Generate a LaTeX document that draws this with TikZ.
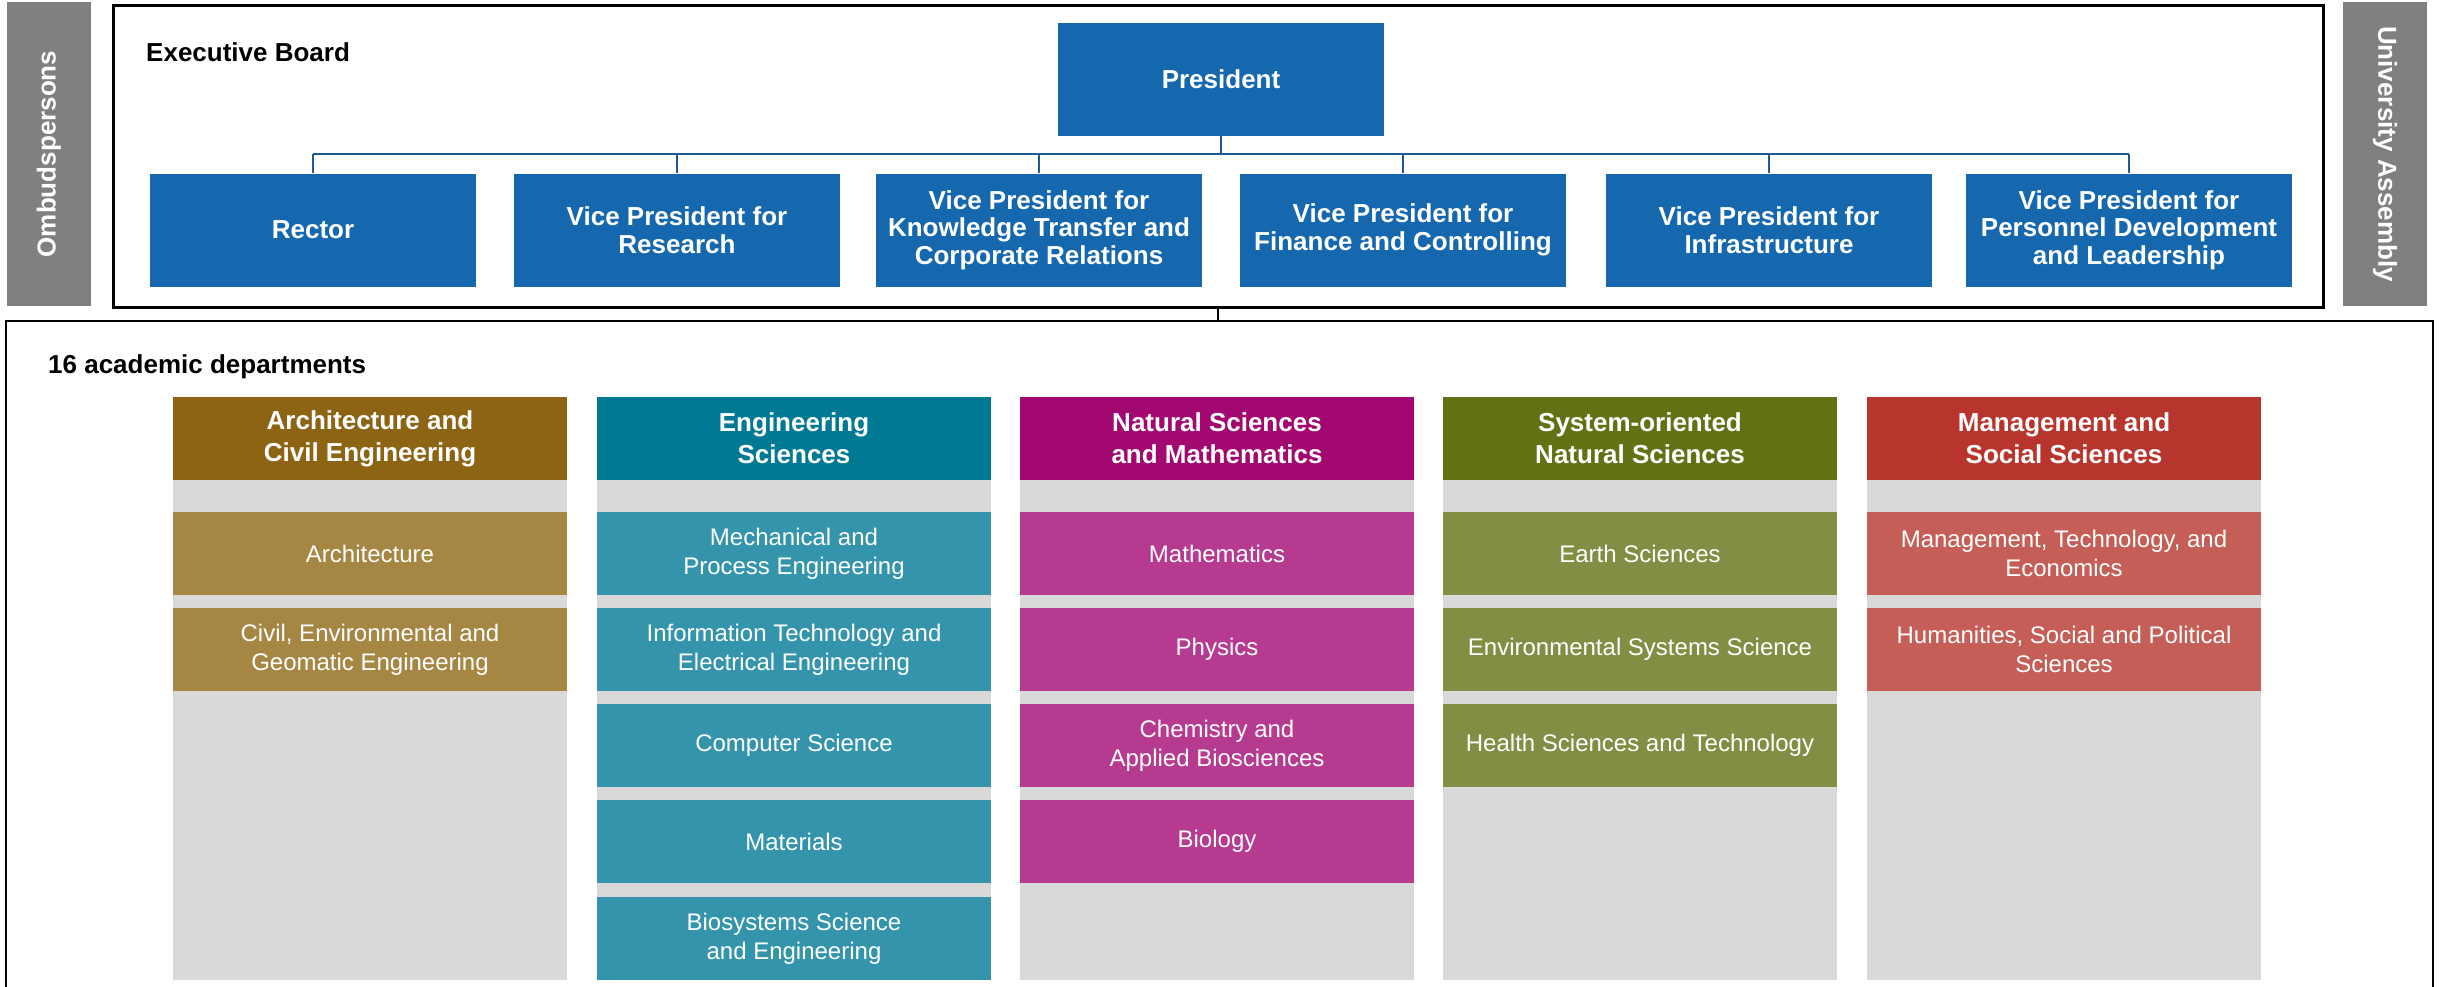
\documentclass[tikz,border=0pt]{standalone}
\usepackage{fontspec}
\setmainfont{Liberation Sans}
\usepackage{tikz}
\definecolor{boardblue}{HTML}{1668AE}
\definecolor{linkblue}{HTML}{1F5A96}
\definecolor{sidegrey}{HTML}{808080}
\definecolor{colgrey}{HTML}{D9D9D9}
\definecolor{archdark}{HTML}{8C6414}
\definecolor{archlight}{HTML}{A68643}
\definecolor{engdark}{HTML}{007A93}
\definecolor{englight}{HTML}{3394AC}
\definecolor{natdark}{HTML}{A2086F}
\definecolor{natlight}{HTML}{B63A90}
\definecolor{sysdark}{HTML}{627114}
\definecolor{syslight}{HTML}{818E43}
\definecolor{mandark}{HTML}{B8352E}
\definecolor{manlight}{HTML}{C55E57}
\tikzstyle{board} = [rectangle, fill=boardblue, text=white, minimum width=326pt, minimum height=113pt, inner sep=2pt, align=center, font=\fontsize{26}{27.5}\selectfont\bfseries]
\tikzstyle{side} = [rectangle, fill=sidegrey, text=white, minimum width=304pt, minimum height=84pt, inner sep=0pt, font=\fontsize{26}{30}\selectfont\bfseries]
\tikzstyle{column} = [rectangle, fill=colgrey, minimum width=394pt, minimum height=500pt, inner sep=0pt]
\tikzstyle{head} = [rectangle, text=white, minimum width=394pt, minimum height=83pt, inner sep=0pt, align=center, font=\fontsize{26}{32}\selectfont\bfseries]
\tikzstyle{unit} = [rectangle, text=white, minimum width=394pt, minimum height=83pt, inner sep=0pt, align=center, font=\fontsize{24}{28.7}\selectfont]
\tikzstyle{title} = [anchor=west, inner sep=0pt, font=\fontsize{26}{30}\selectfont\bfseries]
\tikzstyle{link} = [draw=linkblue, line width=1.5pt]

\begin{document}
\begin{tikzpicture}[x=1pt, y=-1pt]
        \useasboundingbox (0,0) rectangle (2440,986);
        % frames and side bars
        \node (exec) [draw, line width=3pt, minimum width=2210pt, minimum height=302pt] at (1218,156) {};
        \node (depts) [draw, line width=2pt, minimum width=2427pt, minimum height=700pt] at (1219.5,671) {};
        \node (ombuds) [side, rotate=90] at (49,154) {Ombudspersons};
        \node (assembly) [side, rotate=-90] at (2385,154) {University Assembly};
        \node (boardtitle) [title] at (146,52) {Executive Board};
        \node (deptstitle) [title] at (48,367) {16 academic departments};
        % executive board
        \node (pres) [board, minimum height=113pt] at (1221,79.5) {President};
        \node (rector) [board] at (313,230) {Rector};
        \node (research) [board] at (677,230) {Vice President for\\Research};
        \node (transfer) [board] at (1039,230) {Vice President for\\Knowledge Transfer and\\Corporate Relations};
        \node (finance) [board] at (1403,230) {Vice President for\\Finance and Controlling};
        \node (infra) [board] at (1769,230) {Vice President for\\Infrastructure};
        \node (personnel) [board] at (2129,230) {Vice President for\\Personnel Development\\and Leadership};
        \coordinate (bus) at (1221,154);
        \draw [link] (pres.south) -- (bus);
        \draw [link, line width=2.5pt] (rector.north |- bus) -- (personnel.north |- bus);
        \draw [link] (rector.north) -- (rector.north |- bus);
        \draw [link] (research.north) -- (research.north |- bus);
        \draw [link] (transfer.north) -- (transfer.north |- bus);
        \draw [link] (finance.north) -- (finance.north |- bus);
        \draw [link] (infra.north) -- (infra.north |- bus);
        \draw [link] (personnel.north) -- (personnel.north |- bus);
        \draw [line width=2.5pt] (exec.south) -- (exec.south |- depts.north);
        % departments
        \node (archcol) [column] at (370,730) {};
        \node (engcol) [column] at (794,730) {};
        \node (natcol) [column] at (1217,730) {};
        \node (syscol) [column] at (1640,730) {};
        \node (mancol) [column] at (2064,730) {};
        \node (arch) [head, fill=archdark] at (370,438.5) {Architecture and\\Civil Engineering};
        \node (eng) [head, fill=engdark] at (794,438.5) {Engineering\\Sciences};
        \node (nat) [head, fill=natdark] at (1217,438.5) {Natural Sciences\\and Mathematics};
        \node (sys) [head, fill=sysdark] at (1640,438.5) {System-oriented\\Natural Sciences};
        \node (man) [head, fill=mandark] at (2064,438.5) {Management and\\Social Sciences};
        \node (architecture) [unit, fill=archlight] at (370,553.5) {Architecture};
        \node (civil) [unit, fill=archlight] at (370,649.5) {Civil, Environmental and\\Geomatic Engineering};
        \node (mech) [unit, fill=englight] at (794,553.5) {Mechanical and\\Process Engineering};
        \node (itet) [unit, fill=englight] at (794,649.5) {Information Technology and\\Electrical Engineering};
        \node (cs) [unit, fill=englight] at (794,745.5) {Computer Science};
        \node (mat) [unit, fill=englight] at (794,841.5) {Materials};
        \node (bsse) [unit, fill=englight] at (794,938.5) {Biosystems Science\\and Engineering};
        \node (math) [unit, fill=natlight] at (1217,553.5) {Mathematics};
        \node (phys) [unit, fill=natlight] at (1217,649.5) {Physics};
        \node (chem) [unit, fill=natlight] at (1217,745.5) {Chemistry and\\Applied Biosciences};
        \node (biol) [unit, fill=natlight] at (1217,841.5) {Biology};
        \node (earth) [unit, fill=syslight] at (1640,553.5) {Earth Sciences};
        \node (env) [unit, fill=syslight] at (1640,649.5) {Environmental Systems Science};
        \node (health) [unit, fill=syslight] at (1640,745.5) {Health Sciences and Technology};
        \node (mtec) [unit, fill=manlight] at (2064,553.5) {Management, Technology, and\\Economics};
        \node (gess) [unit, fill=manlight] at (2064,649.5) {Humanities, Social and Political\\Sciences};
    \end{tikzpicture}
\end{document}
